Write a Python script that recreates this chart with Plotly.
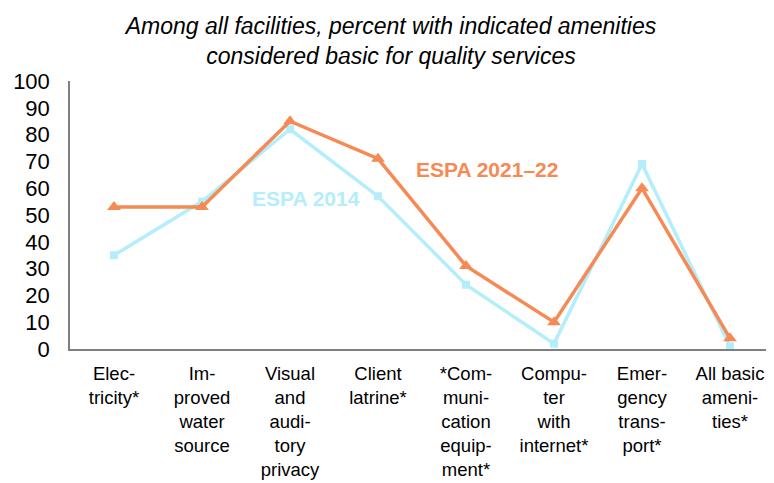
import plotly.graph_objects as go

# categories and values
categories = ["Elec-<br>tricity*", "Im-<br>proved<br>water<br>source", "Visual<br>and<br>audi-<br>tory<br>privacy",
              "Client<br>latrine*", "*Com-<br>muni-<br>cation<br>equip-<br>ment*", "Compu-<br>ter<br>with<br>internet*",
              "Emer-<br>gency<br>trans-<br>port*", "All basic<br>ameni-<br>ties*"]
espa_2014 = [35, 55, 82, 57, 24, 2, 69, 1]
espa_2021 = [53, 53, 85, 71, 31, 10, 60, 4]

cyan = "#B3EEFA"
orange = "#F58A55"
font_family = "Liberation Sans, Arial"

fig = go.Figure()
fig.add_trace(go.Scatter(x=categories, y=espa_2014, mode="lines+markers", name="ESPA 2014",
                         line=dict(color=cyan, width=3.5), marker=dict(symbol="square", size=8, color=cyan)))
fig.add_trace(go.Scatter(x=categories, y=espa_2021, mode="lines+markers", name="ESPA 2021–22",
                         line=dict(color=orange, width=3.5), marker=dict(symbol="triangle-up", size=12, color=orange)))

# inline series labels
fig.add_annotation(x=2.18, y=56.3, text="<b>ESPA 2014</b>", showarrow=False,
                   font=dict(color=cyan, size=21, family=font_family))
fig.add_annotation(x=4.24, y=66.8, text="<b>ESPA 2021–22</b>", showarrow=False,
                   font=dict(color=orange, size=21, family=font_family))

# page body has an 8px margin, so the figure is a bit smaller than the window
fig.update_layout(
    width=766, height=475,
    paper_bgcolor="white", plot_bgcolor="white",
    showlegend=False,
    margin=dict(l=62, r=0, t=73, b=134),
    font=dict(family=font_family, color="black"),
    title=dict(text="<i>Among all facilities, percent with indicated amenities<br>considered basic for quality services</i>",
               x=0.5, xanchor="center", y=0.945, yanchor="top", font=dict(size=23)),
)
fig.update_yaxes(range=[0, 100], dtick=10, showgrid=False, zeroline=False, showline=True,
                 linecolor="#7f7f7f", linewidth=1.5, tickfont=dict(size=22), ticklabelstandoff=14)
fig.update_xaxes(showgrid=False, showline=True, linecolor="#7f7f7f", linewidth=1.5,
                 tickfont=dict(size=18.5), tickangle=0, range=[-0.5, 7.5], ticklabelstandoff=7)

fig.write_html("out.html")
